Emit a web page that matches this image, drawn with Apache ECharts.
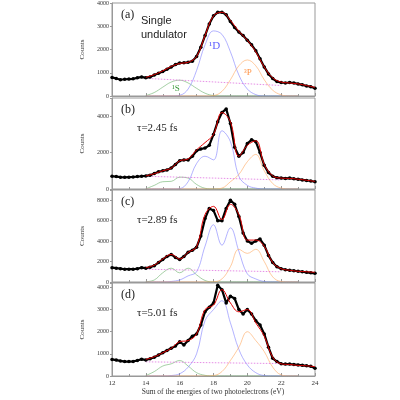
<!DOCTYPE html>
<html>
<head>
<meta charset="utf-8">
<script src="https://cdn.jsdelivr.net/npm/echarts@6/dist/echarts.min.js"></script>
<style>html,body{margin:0;padding:0;background:#fff}#main{width:400px;height:400px}</style>
</head>
<body>
<div id="main"></div>
<script>
// x grids (eV)
var xData = [];  // 12..24 step 0.25
for (var i = 0; i <= 48; i++) xData.push(12 + i * 0.25);
var xFit = [14,14.5,15,15.5,16,16.5,17,17.5,18,18.5,19,19.5,20,20.5,21,21.5,22,22.5,23,23.5,24];
var xComp = [14,14.5,15,15.5,16,16.5,17,17.5,18,18.5,19,19.5,20,20.5,21,21.5,22,22.5,23];

// panel (a) single undulator
var dataA = [800,750,700,720,730,740,780,820,780,820,900,980,1050,1150,1250,1350,1420,1430,1450,1500,1700,2100,2600,3100,3450,3600,3600,3500,3200,2950,2750,2600,2400,2200,1950,1600,1250,950,750,620,580,560,580,560,520,480,430,400,330];
var fitA = [800,920,1080,1270,1400,1450,1700,2600,3450,3600,3250,2780,2400,1900,1250,780,600,560,520,450,370];
var sA = [20,150,380,600,680,560,330,120,20,0,0,0,0,0,0,0,0,0,0];
var dA = [0,0,0,0,30,300,1100,2200,2800,2650,1900,900,300,60,0,0,0,0,0];
var pA = [0,0,0,0,0,0,0,0,20,200,700,1300,1550,1300,700,250,50,0,0];
var bgA = [760,450];

// panel (b) tau = 2.45 fs
var dataB = [700,680,650,640,650,660,680,700,720,760,850,950,1000,1050,1150,1350,1550,1600,1600,1800,2100,2200,2250,2400,3000,3700,4200,4400,3600,2300,1800,2000,2500,2700,2600,2000,1300,900,700,620,600,580,600,560,540,500,470,440,400];
var fitB = [720,840,1000,1150,1550,1650,2150,2550,3000,4200,3700,1800,2400,2650,1350,720,600,580,540,480,420];
var sB = [10,200,400,420,650,600,250,40,0,0,0,0,0,0,0,0,0,0,0];
var dB = [0,0,0,0,20,400,1400,1800,1600,3200,2600,700,200,50,0,0,0,0,0];
var pB = [0,0,0,0,0,0,0,0,0,50,400,800,1500,1900,1000,300,50,0,0];
var bgB = [700,500];

// panel (c) tau = 2.89 fs
var dataC = [1400,1350,1300,1250,1250,1250,1300,1400,1350,1450,1600,1900,2200,2500,2700,2400,2200,2500,2900,3100,3400,4500,6200,7200,7000,6000,6000,7200,8000,7600,6400,4800,4000,3800,4000,4200,3600,2600,1900,1500,1300,1200,1150,1100,1050,1000,950,900,850];
var fitC = [1400,1650,2250,2700,2250,2900,3450,6600,7400,6100,7600,6600,4100,4100,3500,1900,1300,1150,1050,1000,950];
var sC = [30,200,900,1350,900,1350,700,150,0,0,0,0,0,0,0,0,0,0,0];
var dC = [0,0,0,50,200,600,1000,3500,5600,3600,5300,3000,800,300,50,0,0,0,0];
var pC = [0,0,0,0,0,0,0,0,20,300,1500,3200,2800,3200,2000,500,50,0,0];
var bgC = [1250,1000];

// panel (d) tau = 5.01 fs
var dataD = [750,720,680,650,650,660,700,760,720,780,850,950,1050,1150,1250,1350,1550,1400,1600,1800,1900,2300,2900,3100,3300,4100,3900,3300,3600,3500,3000,2800,3000,2800,2500,2300,1900,1300,800,650,550,540,540,520,500,480,460,440,350];
var fitD = [750,870,1050,1250,1550,1600,1900,3000,3200,3900,3300,2900,3000,2400,1800,850,550,520,480,460,420];
var sD = [20,200,450,550,700,450,150,30,0,0,0,0,0,0,0,0,0,0,0];
var dD = [0,0,0,20,100,400,1000,2500,3000,3400,2400,1200,500,150,20,0,0,0,0];
var pD = [0,0,0,0,0,0,0,0,20,200,700,1300,2000,1600,1100,400,50,0,0];
var bgD = [640,560];

var panels = [
  {data: dataA, fit: fitA, s: sA, d: dA, p: pA, bg: bgA, top: 3, h: 93, max: 4000, interval: 1000, label: '(a)', tau: null},
  {data: dataB, fit: fitB, s: sB, d: dB, p: pB, bg: bgB, top: 98, h: 91, max: 5000, interval: 2000, label: '(b)', tau: 'τ=2.45 fs'},
  {data: dataC, fit: fitC, s: sC, d: dC, p: pC, bg: bgC, top: 190, h: 92, max: 9000, interval: 2000, label: '(c)', tau: 'τ=2.89 fs'},
  {data: dataD, fit: fitD, s: sD, d: dD, p: pD, bg: bgD, top: 283, h: 93, max: 4200, interval: 1000, label: '(d)', tau: 'τ=5.01 fs'}
];

function pairs(xs, ys) {
  return ys.map(function (v, i) { return [xs[i], v]; });
}

var font = 'Liberation Serif';
var grid = [], xAxis = [], yAxis = [], series = [], graphic = [];

panels.forEach(function (p, k) {
  grid.push({left: 112, right: 85, top: p.top, height: p.h, show: true, borderColor: '#999', borderWidth: 1});
  xAxis.push({
    type: 'value', gridIndex: k, min: 12, max: 24, interval: 2,
    axisLine: {lineStyle: {color: '#999'}},
    axisTick: {inside: true, length: 3, lineStyle: {color: '#999'}},
    minorTick: {show: true, splitNumber: 2, length: 2, lineStyle: {color: '#999'}},
    axisLabel: {show: k === 3, fontFamily: font, fontSize: 7, color: '#333', margin: 4},
    splitLine: {show: false}
  });
  yAxis.push({
    type: 'value', gridIndex: k, min: 0, max: p.max, interval: p.interval,
    name: 'Counts', nameLocation: 'middle', nameGap: 17,
    nameTextStyle: {fontFamily: font, fontSize: 7, color: '#333'},
    axisLine: {show: true, lineStyle: {color: '#999'}},
    axisTick: {inside: false, length: 2, lineStyle: {color: '#999'}},
    axisLabel: {fontFamily: font, fontSize: 6, color: '#333', margin: 3,
      formatter: function (v) { return v > p.max - 100 && v % p.interval ? '' : v; }},
    splitLine: {show: false}
  });
  var comp = function (ys, color) {
    return {type: 'line', xAxisIndex: k, yAxisIndex: k, data: pairs(xComp, ys), smooth: 0.4,
      showSymbol: false, silent: true, lineStyle: {color: color, width: 0.6}, z: 2};
  };
  series.push(comp(p.s, '#6ab06a'));
  series.push(comp(p.d, '#8080ff'));
  series.push(comp(p.p, '#ffa860'));
  series.push({type: 'line', xAxisIndex: k, yAxisIndex: k, data: pairs([14, 22], p.bg),
    showSymbol: false, silent: true, lineStyle: {color: '#e070e0', width: 0.8, type: [1.5, 1.5]}, z: 2});
  series.push({type: 'line', xAxisIndex: k, yAxisIndex: k, data: pairs(xData, p.data),
    symbol: 'circle', symbolSize: 3.5, itemStyle: {color: '#000'},
    lineStyle: {color: '#000', width: 2.2}, silent: true, z: 3});
  series.push({type: 'line', xAxisIndex: k, yAxisIndex: k, data: pairs(xFit, p.fit), smooth: 0.4,
    showSymbol: false, silent: true, lineStyle: {color: '#e00000', width: 1}, z: 4});

  graphic.push({type: 'text', left: 121, top: p.top + 6, style: {text: p.label, font: '12px ' + font, fill: '#222'}});
  if (p.tau) graphic.push({type: 'text', left: 137, top: p.top + 25, style: {text: p.tau, font: '11px ' + font, fill: '#222'}});
});

graphic.push({type: 'text', left: 141, top: 14, style: {text: 'Single\nundulator', font: '11px Liberation Sans', fill: '#222', lineHeight: 14}});
graphic.push({type: 'text', left: 209, top: 41, style: {text: '¹D', font: '11px ' + font, fill: '#6060ff'}});
graphic.push({type: 'text', left: 244, top: 68, style: {text: '³P', font: '9px ' + font, fill: '#ff9040'}});
graphic.push({type: 'text', left: 172, top: 84, style: {text: '¹S', font: '9px ' + font, fill: '#3a9a3a'}});
graphic.push({type: 'text', x: 213, y: 388, style: {text: 'Sum of the energies of two photoelectrons (eV)', font: '7.5px ' + font, fill: '#333', align: 'center'}});

var myChart = echarts.init(document.getElementById('main'));
myChart.setOption({animation: false, grid: grid, xAxis: xAxis, yAxis: yAxis, series: series, graphic: graphic});
</script>
</body>
</html>
